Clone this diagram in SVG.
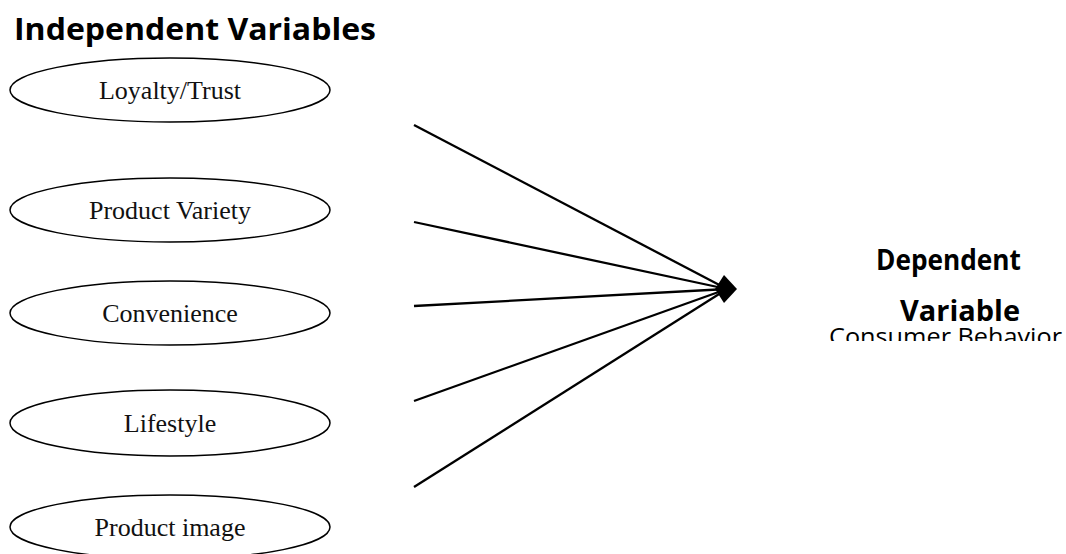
<svg xmlns="http://www.w3.org/2000/svg" width="1066" height="554" viewBox="0 0 1066 554">
<defs>
<style>
.node ellipse{fill:#fff;stroke:#000;stroke-width:1.5}
.node text{font-family:"Liberation Serif","Times New Roman",serif;font-size:26px;fill:#111;text-anchor:middle}
.hdr{font-family:"Open Sans","Liberation Sans",sans-serif;font-weight:bold;fill:#000}
.sub{font-family:"Open Sans","Liberation Sans",sans-serif;fill:#000}
#connectors line{stroke:#000;stroke-width:2.3}
</style>
<clipPath id="clipdv"><rect x="800" y="230" width="266" height="111"/></clipPath>
</defs>
<rect width="1066" height="554" fill="#fff"/>
<text class="hdr" x="14" y="40" font-size="31" textLength="362" lengthAdjust="spacingAndGlyphs">Independent Variables</text>
<g id="n1" class="node"><ellipse cx="170" cy="90" rx="160" ry="32"/><text x="170" y="99">Loyalty/Trust</text></g>
<g id="n2" class="node"><ellipse cx="170" cy="210" rx="160" ry="32"/><text x="170" y="219">Product Variety</text></g>
<g id="n3" class="node"><ellipse cx="170" cy="313" rx="160" ry="32"/><text x="170" y="322">Convenience</text></g>
<g id="n4" class="node"><ellipse cx="170" cy="423" rx="160" ry="33"/><text x="170" y="432">Lifestyle</text></g>
<g id="n5" class="node"><ellipse cx="170" cy="527" rx="160" ry="32"/><text x="170" y="536">Product image</text></g>
<g id="connectors">
<line x1="414" y1="125" x2="727" y2="289"/>
<line x1="414" y1="222" x2="727" y2="289"/>
<line x1="414" y1="306" x2="727" y2="289"/>
<line x1="414" y1="401" x2="727" y2="289"/>
<line x1="414" y1="487" x2="727" y2="289"/>
<polygon points="737,289 724,275 715,289 724,303" fill="#000"/>
</g>
<g id="dv" clip-path="url(#clipdv)">
<text class="hdr" x="876" y="270" font-size="28" textLength="145" lengthAdjust="spacingAndGlyphs">Dependent</text>
<text class="hdr" x="900" y="321" font-size="28" textLength="120" lengthAdjust="spacingAndGlyphs">Variable</text>
<text class="sub" x="829" y="345" font-size="24" textLength="233" lengthAdjust="spacingAndGlyphs">Consumer Behavior</text>
</g>
</svg>
